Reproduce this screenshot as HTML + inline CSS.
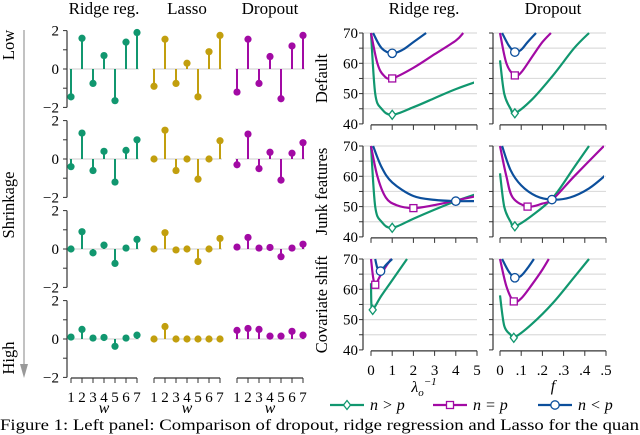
<!DOCTYPE html>
<html><head><meta charset="utf-8"><style>
html,body{margin:0;padding:0;background:#fff}
svg{display:block;font-family:"Liberation Serif",serif}
</style></head><body>
<svg id="fig" width="640" height="435" viewBox="0 0 640 435" xmlns="http://www.w3.org/2000/svg"></svg>
<script>
const methods = ["Ridge reg.","Lasso","Dropout"];
const methodColors = ["#11976f","#c29f0e","#a20aa4"];
const coefIndex = [1,2,3,4,5,6,7];
const stemRow1 = [[-1.45,1.6,-0.75,0.7,-1.65,1.4,1.9],[-0.9,1.55,-0.75,0.3,-1.45,0.9,1.75],[-1.2,1.55,-0.75,0.65,-1.55,1.2,1.75]];
const stemRow2 = [[-0.4,1.35,-0.6,0.4,-1.2,0.45,1.0],[0,1.5,-0.6,0,-1.05,0,0.95],[-0.3,1.3,-0.5,0.35,-1.1,0.3,0.85]];
const stemRow3 = [[0,0.9,-0.2,0.2,-0.75,0.05,0.5],[0,0.85,-0.05,0,-0.65,0,0.55],[0.1,0.6,0.05,0.08,-0.4,0.05,0.25]];
const stemRow4 = [[0.1,0.5,0.05,0.08,-0.38,0.05,0.2],[0,0.65,0,0,0,0,0],[0.45,0.55,0.5,0.15,0.15,0.4,0.2]];
const stemRows = [stemRow1,stemRow2,stemRow3,stemRow4];
const stemYTicks = [2,0,-2];

const curveColors = ["#11976f","#a20aa4","#0c4f9c"];
const ridgeXTicks = ["0","1","2","3","4","5"];
const dropXTicks = ["0",".1",".2",".3",".4",".5"];
const rowTitles = ["Default","Junk features","Covariate shift"];
const lossYTicks = [70,60,50,40];
const defRidgeGreen=[[0,70],[0.2,50],[0.5,45],[1,43],[2,45.5],[3,48.5],[4,51.5],[5,54]];
const defRidgeMag=[[0,70],[0.3,60],[0.6,56],[1,55],[2,58.5],[3,63],[4,67.5],[4.35,70]];
const defRidgeBlue=[[0.1,70],[0.5,65],[1,63.3],[1.5,64.5],[2,67],[2.6,70]];
const defDropGreen=[[0,61],[0.02,50],[0.05,45],[0.07,43.5],[0.15,48],[0.25,56],[0.35,65],[0.42,70]];
const defDropMag=[[0,70],[0.03,60],[0.07,56],[0.1,57],[0.15,62],[0.2,67],[0.24,70]];
const defDropBlue=[[0.01,70],[0.04,66],[0.07,63.7],[0.1,64.5],[0.13,67],[0.17,70]];
const junkRidgeGreen=[[0,70],[0.2,50],[0.5,45],[1,43],[2,46],[3,49],[4,51.8],[5,54.2]];
const junkRidgeMag=[[0,70],[0.3,60],[0.7,53],[1.2,50.5],[2,49.5],[3,50.5],[4,52],[5,53.5]];
const junkRidgeBlue=[[0.1,70],[0.5,63],[1,58],[2,53.5],[3,52.2],[4,51.8],[5,51.8]];
const junkDropGreen=[[0,61],[0.02,50],[0.05,45],[0.07,43.5],[0.15,47],[0.25,53],[0.35,63],[0.42,70]];
const junkDropMag=[[0,70],[0.03,60],[0.06,53],[0.13,50],[0.2,51],[0.25,52.5],[0.35,60],[0.49,70]];
const junkDropBlue=[[0.01,70],[0.05,62],[0.1,57],[0.17,53.5],[0.245,52.3],[0.33,53],[0.42,56],[0.5,60.5]];
const covRidgeGreen=[[0,62],[0.02,55],[0.08,53.2],[0.5,58],[1,63],[1.7,70]];
const covRidgeMag=[[0,70],[0.1,64],[0.2,61.5],[0.4,64],[0.7,67.5],[0.95,70]];
const covRidgeBlue=[[0.2,70],[0.3,67],[0.45,66],[0.7,68],[1,70]];
const covDropGreen=[[0,58],[0.02,48],[0.05,45],[0.065,44],[0.15,48.5],[0.25,55.5],[0.35,64],[0.42,70]];
const covDropMag=[[0,70],[0.03,61],[0.065,56],[0.1,57],[0.15,61.5],[0.2,66.5],[0.23,70]];
const covDropBlue=[[0.01,70],[0.04,66],[0.07,63.8],[0.1,64.5],[0.13,67],[0.16,70]];
const curves=[[[defRidgeGreen,defRidgeMag,defRidgeBlue],[defDropGreen,defDropMag,defDropBlue]],
 [[junkRidgeGreen,junkRidgeMag,junkRidgeBlue],[junkDropGreen,junkDropMag,junkDropBlue]],
 [[covRidgeGreen,covRidgeMag,covRidgeBlue],[covDropGreen,covDropMag,covDropBlue]]];
const markerX=[[[1,1,1],[0.07,0.07,0.07]],[[1,2,4],[0.07,0.13,0.245]],[[0.08,0.2,0.45],[0.065,0.065,0.07]]];
const legendLabels=["n > p","n = p","n < p"];

const NS="http://www.w3.org/2000/svg";
const svg=document.getElementById("fig");
function mk(tag,attrs,parent){const e=document.createElementNS(NS,tag);for(const k in attrs)e.setAttribute(k,attrs[k]);(parent||svg).appendChild(e);return e;}
function txt(s,attrs,parent){const e=mk("text",attrs,parent);e.textContent=s;return e;}

// ---------- LEFT PANEL ----------
const rowZero=[69,159,249,339];
const unitY=19.2;
const groupX0=[71,154,237];
const stepX=11;
methods.forEach((m,i)=>{
  const t=txt(m,{x:groupX0[i]+33,y:14,"text-anchor":"middle","font-size":17});
  
  
});
stemRows.forEach((row,r)=>{
  const y0=rowZero[r];
  const g=mk("g",{});
  
  
  mk("line",{x1:67,y1:y0-2*unitY,x2:67,y2:y0+2*unitY,stroke:"#333","stroke-width":1.2},g);
  [-2,-1,0,1,2].forEach(v=>mk("line",{x1:63,x2:67,y1:y0-v*unitY,y2:y0-v*unitY,stroke:"#333","stroke-width":1},g));
  stemYTicks.forEach(v=>{
    txt(v<0?"\u2212"+(-v):String(v),{x:59,y:y0-v*unitY+5,"text-anchor":"end","font-size":15},g);
  });
  row.forEach((vals,mi)=>{
    mk("line",{x1:groupX0[mi]-2,x2:groupX0[mi]+6*stepX+2,y1:y0,y2:y0,stroke:"#d6d6d6","stroke-width":1.2},g);
    vals.forEach((v,k)=>{
      const x=groupX0[mi]+(coefIndex[k]-1)*stepX, y=y0-v*unitY;
      mk("line",{x1:x,x2:x,y1:y0,y2:y,stroke:methodColors[mi],"stroke-width":2},g);
      const c=mk("circle",{cx:x,cy:y,r:3.6,fill:methodColors[mi]},g);
      
      
    });
  });
});
groupX0.forEach((gx,mi)=>{
  const g=mk("g",{});
  
  
  mk("line",{x1:gx,x2:gx+6*stepX,y1:378,y2:378,stroke:"#333","stroke-width":1.2},g);
  coefIndex.forEach((c,k)=>{
    mk("line",{x1:gx+k*stepX,x2:gx+k*stepX,y1:378,y2:383,stroke:"#333","stroke-width":1},g);
    txt(String(c),{x:gx+k*stepX,y:402,"text-anchor":"middle","font-size":15},g);
  });
  txt("w",{x:gx+33,y:413,"text-anchor":"middle","font-size":16,"font-style":"italic"},g);
});
{
  const g=mk("g",{});
  
  
  mk("line",{x1:24,x2:24,y1:30,y2:372,stroke:"#999","stroke-width":1.2},g);
  mk("path",{d:"M20,364 L24,378 L28,364 Z",fill:"#999"},g);
  txt("Low",{transform:"translate(14,45) rotate(-90)","text-anchor":"middle","font-size":16.5},g);
  txt("Shrinkage",{transform:"translate(14,205) rotate(-90)","text-anchor":"middle","font-size":16.5},g);
  txt("High",{transform:"translate(14,358) rotate(-90)","text-anchor":"middle","font-size":16.5},g);
}

// ---------- RIGHT PANEL ----------
const colAxisX=[363,493];
const colX0=[371,500];
const colScale=[21.2,212];
const rowTop=[33,146,259];
const pyScale=3.03;
const colTitles=["Ridge reg.","Dropout"];
colTitles.forEach((t,c)=>{
  const e=txt(t,{x:colX0[c]+53,y:14,"text-anchor":"middle","font-size":17});
  
  
});
function smoothPath(pts){
  let d="M"+pts[0][0].toFixed(1)+","+pts[0][1].toFixed(1);
  for(let i=0;i<pts.length-1;i++){
    const p0=pts[Math.max(0,i-1)],p1=pts[i],p2=pts[i+1],p3=pts[Math.min(pts.length-1,i+2)];
    const c1=[p1[0]+(p2[0]-p0[0])/6,p1[1]+(p2[1]-p0[1])/6];
    const c2=[p2[0]-(p3[0]-p1[0])/6,p2[1]-(p3[1]-p1[1])/6];
    d+=" C"+c1.map(v=>v.toFixed(1))+" "+c2.map(v=>v.toFixed(1))+" "+p2[0].toFixed(1)+","+p2[1].toFixed(1);
  }
  return d;
}
function valAt(pts,x){
  for(let i=0;i<pts.length-1;i++){if(x>=pts[i][0]&&x<=pts[i+1][0]){const t=(x-pts[i][0])/(pts[i+1][0]-pts[i][0]);return pts[i][1]+t*(pts[i+1][1]-pts[i][1]);}}
  return pts[pts.length-1][1];
}
function marker(shape,x,y,color,parent){
  if(shape===0) return mk("path",{d:`M${x},${y-4.5} L${x+3.5},${y} L${x},${y+4.5} L${x-3.5},${y} Z`,fill:"#fff",stroke:color,"stroke-width":1.3},parent);
  if(shape===1) return mk("rect",{x:x-3.5,y:y-3.5,width:7,height:7,fill:"#fff",stroke:color,"stroke-width":1.3},parent);
  return mk("circle",{cx:x,cy:y,r:4.2,fill:"#fff",stroke:color,"stroke-width":1.3},parent);
}
const defs=mk("defs",{});
rowTop.forEach((top,r)=>{
  const py=v=>top+(70-v)*pyScale;
  const rl=txt(rowTitles[r],{transform:`translate(327,${py(55)}) rotate(-90)`,"text-anchor":"middle","font-size":16.5});
  
  
  [0,1].forEach(c=>{
    const px=v=>colX0[c]+v*colScale[c];
    const g=mk("g",{});
    
    
    const cid="clip"+r+c;
    const cp=mk("clipPath",{id:cid},defs);
    mk("rect",{x:colAxisX[c]+1,y:py(70)-1,width:110,height:py(40)-py(70)+1},cp);
    [45,50,55,60,65,70].forEach(v=>mk("line",{x1:colAxisX[c],x2:colX0[c]+106,y1:py(v),y2:py(v),stroke:"#dcdcdc","stroke-width":1.2},g));
    mk("line",{x1:colAxisX[c],x2:colAxisX[c],y1:py(70),y2:py(40),stroke:"#333","stroke-width":1.2},g);
    [40,45,50,55,60,65,70].forEach(v=>mk("line",{x1:colAxisX[c]-4,x2:colAxisX[c],y1:py(v),y2:py(v),stroke:"#333","stroke-width":1},g));
    if(c===0) lossYTicks.forEach(v=>txt(String(v),{x:colAxisX[c]-5,y:py(v)+5,"text-anchor":"end","font-size":15},g));
    const axY=py(40)+1;
    mk("line",{x1:colX0[c],x2:colX0[c]+106,y1:axY,y2:axY,stroke:"#333","stroke-width":1.2},g);
    for(let k=0;k<6;k++) mk("line",{x1:colX0[c]+k*21.2,x2:colX0[c]+k*21.2,y1:axY,y2:axY+5,stroke:"#333","stroke-width":1},g);
    if(r===2){
      const labs=c===0?ridgeXTicks:dropXTicks;
      labs.forEach((l,k)=>txt(l,{x:colX0[c]+k*21.2,y:375,"text-anchor":"middle","font-size":15},g));
    }
    const cg=mk("g",{"clip-path":`url(#${cid})`},g);
    curves[r][c].forEach((pts,s)=>{
      const p=mk("path",{d:smoothPath(pts.map(q=>[px(q[0]),py(q[1])])),fill:"none",stroke:curveColors[s],"stroke-width":2.2},cg);
      
      
    });
    curves[r][c].forEach((pts,s)=>{
      const mx=markerX[r][c][s];
      const m=marker(s,px(mx),py(valAt(pts,mx)),curveColors[s],g);
      
      
    });
  });
});
{
  const t=mk("text",{x:424,y:392,"text-anchor":"middle","font-size":16,"font-style":"italic"});
  t.innerHTML='λ<tspan dy="4" font-size="11">o</tspan><tspan dy="-11" font-size="11">−1</tspan>';
  
  
  const f=txt("f",{x:553,y:391,"text-anchor":"middle","font-size":16,"font-style":"italic"});
  
  
}
const legX=[330,433,538];
legendLabels.forEach((l,s)=>{
  const g=mk("g",{});
  
  
  mk("line",{x1:legX[s],x2:legX[s]+34,y1:405,y2:405,stroke:curveColors[s],"stroke-width":2.2},g);
  marker(s,legX[s]+17,405,curveColors[s],g);
  txt(l,{x:legX[s]+40,y:410,"font-size":16,"font-style":"italic"},g);
});
{
  const t=txt("Figure 1: Left panel: Comparison of dropout, ridge regression and Lasso for the quan",{x:0,y:430,"font-size":16,textLength:639,lengthAdjust:"spacingAndGlyphs"});
  
  
}
</script>
</body></html>
